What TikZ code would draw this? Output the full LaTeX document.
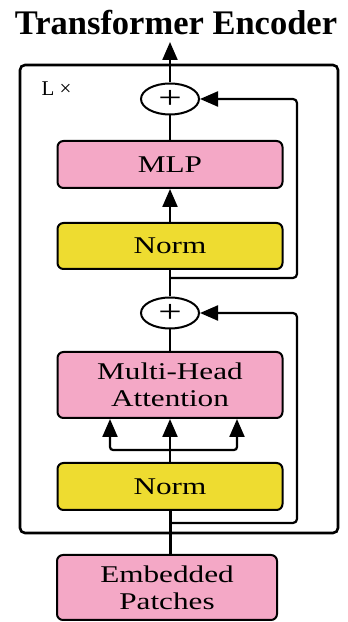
\documentclass[tikz,border=0pt]{standalone}
\usepackage{fontspec}
\setmainfont{Liberation Serif}
\newfontfamily\boxfont[FakeStretch=1.3]{Liberation Serif}
\usetikzlibrary{arrows.meta, shapes.geometric}

\definecolor{boxpink}{RGB}{244,168,198}
\definecolor{boxyellow}{RGB}{238,220,48}

\tikzset{
  block/.style={draw, line width=2pt, rounded corners=6pt, minimum width=225pt,
    align=center, inner sep=0pt, font=\boxfont\fontsize{24}{27}\selectfont},
  addop/.style={draw, ellipse, line width=2pt, minimum width=58pt, minimum height=31pt,
    inner sep=0pt, font=\boxfont\fontsize{32}{32}\selectfont},
  conn/.style={line width=2.2pt},
  arr/.style={conn, -{Triangle[length=18pt,width=15pt]}},
}

\begin{document}
\begin{tikzpicture}[x=1pt, y=1pt]
    \useasboundingbox (0,0) rectangle (348,622);

    \draw[line width=2.6pt, rounded corners=5pt] (20,89) rectangle (338,557);
    \node[anchor=west, font=\fontsize{21}{21}\selectfont] (reps) at (38,533) {L ×};
    \node[anchor=base, font=\bfseries\fontsize{34.5}{34.5}\selectfont] (title) at (176,587) {Transformer Encoder};

    \node[block, fill=boxpink, minimum width=220pt, minimum height=65pt] (embed) at (167,34.5) {Embedded\\Patches};
    \node[block, fill=boxyellow, minimum height=47pt] (norm1) at (170,135.5) {Norm};
    \node[block, fill=boxpink, minimum height=66pt] (mha) at (170,237) {Multi-Head\\Attention};
    \node[addop] (add1) at (170,309) {+};
    \node[block, fill=boxyellow, minimum height=46pt] (norm2) at (170,376) {Norm};
    \node[block, fill=boxpink, minimum height=47pt] (mlp) at (170,457.5) {MLP};
    \node[addop] (add2) at (170,523) {+};

    \coordinate (out) at (170,580);
    \coordinate (split) at (170,172);
    \coordinate (res1) at (297,99);
    \coordinate (res2) at (297,344);

    % attention block
    \draw[line width=3pt] (norm1.south) -- (norm1.south |- embed.north);
    \draw[conn] (norm1.north) -- (split);
    \draw[arr] (split) -- (mha.south);
    \foreach \dx in {-60,67}
      \draw[arr, rounded corners=3pt] (split) -| ([xshift=\dx pt]split |- mha.south);
    \draw[conn] (mha.north) -- (add1.south);
    \draw[arr, rounded corners=4pt] (norm1.south |- res1) -- (res1) |- (add1.east);

    % mlp block
    \draw[conn] (add1.north) -- (norm2.south);
    \draw[arr] (norm2.north) -- (mlp.south);
    \draw[conn] (mlp.north) -- (add2.south);
    \draw[arr, rounded corners=4pt] (norm2.south |- res2) -- (res2) |- (add2.east);
    \draw[arr] (add2.north) -- (out);
\end{tikzpicture}
\end{document}
